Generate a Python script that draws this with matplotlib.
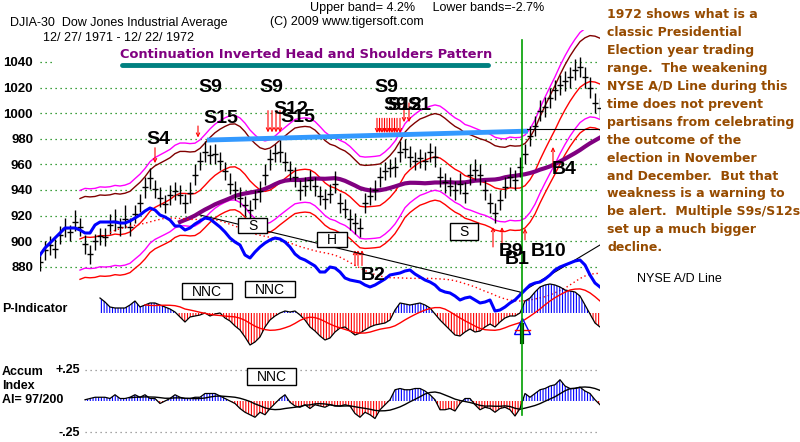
import numpy as np
import matplotlib
matplotlib.use("Agg")
import matplotlib.pyplot as plt
from matplotlib.patches import Rectangle
from matplotlib.lines import Line2D

plt.rcParams['font.family'] = ['Liberation Sans', 'DejaVu Sans']
plt.rcParams['hatch.linewidth'] = 0.8

W, H = 800, 442

# ---------------- data (DJIA, one bar ~ every 2 trading days) ----------------
closes = [884, 893, 897, 894, 905, 910, 907, 915, 911, 898, 890, 900, 904, 903, 913, 916,
          911, 917, 911, 921, 930, 942, 949, 941, 934, 929, 936, 939, 936, 930, 938, 952,
          963, 970, 967, 968, 963, 955, 945, 940, 934, 928, 924, 933, 939, 952, 964, 969,
          970, 962, 956, 950, 940, 943, 948, 943, 935, 933, 937, 945, 930, 925, 917, 914,
          910, 930, 935, 940, 950, 955, 957, 958, 970, 972, 966, 963, 965, 963, 970, 966,
          950, 946, 943, 940, 945, 938, 952, 956, 952, 940, 930, 922, 932, 942, 950, 948,
          958, 968, 982, 990, 1002, 1005, 1012, 1018, 1022, 1025, 1028, 1034, 1036, 1028,
          1020, 1008, 1004]
highs = [890, 900, 904, 902, 912, 918, 913, 924, 918, 905, 897, 906, 910, 910, 921, 925,
         918, 928, 918, 928, 937, 950, 957, 948, 942, 936, 944, 946, 944, 937, 946, 960,
         970, 978, 975, 976, 970, 962, 953, 947, 942, 935, 932, 940, 947, 960, 972, 976,
         979, 970, 963, 958, 948, 950, 956, 950, 943, 941, 945, 955, 938, 933, 925, 922,
         918, 938, 942, 948, 958, 962, 964, 966, 978, 980, 974, 970, 972, 970, 977, 974,
         958, 953, 950, 947, 953, 946, 960, 964, 960, 948, 938, 930, 940, 950, 958, 956,
         966, 976, 990, 998, 1010, 1013, 1020, 1026, 1030, 1033, 1036, 1042, 1044, 1036,
         1028, 1016, 1012]
lows = [877, 885, 889, 887, 898, 903, 900, 908, 904, 890, 882, 893, 897, 896, 906, 908,
        904, 910, 904, 914, 923, 934, 941, 934, 927, 922, 928, 932, 929, 922, 930, 944,
        956, 962, 960, 960, 956, 948, 937, 932, 927, 920, 916, 925, 931, 944, 956, 962,
        962, 955, 948, 942, 932, 935, 940, 935, 928, 925, 930, 938, 922, 918, 909, 906,
        903, 922, 928, 932, 942, 948, 950, 950, 962, 965, 958, 956, 957, 956, 962, 958,
        942, 938, 935, 932, 937, 930, 944, 948, 944, 932, 922, 914, 924, 934, 942, 940,
        950, 960, 974, 982, 994, 997, 1004, 1010, 1014, 1017, 1020, 1026, 1028, 1020,
        1012, 1000, 996]

# NYSE advance/decline line (arbitrary units)
nyse_ad = [45, 52, 57, 62, 67, 72, 72, 72, 70, 67, 67, 75, 78, 78, 78, 78, 77, 77, 79, 82,
           85, 89, 92, 90, 85, 83, 80, 74, 74, 70, 72, 76, 79, 82, 81, 77, 73, 68, 62, 58,
           55, 45, 42, 48, 53, 57, 60, 62, 61, 58, 53, 46, 42, 40, 37, 34, 28, 28, 33, 32,
           28, 22, 20, 19, 18, 15, 13, 15, 18, 21, 25, 26, 27, 29, 30, 26, 23, 20, 18, 15,
           10, 8, 7, 4, 0, 2, 3, 0, -3, -2, 0, -11, -10, -7, -3, 0, 5, 10, 15, 17,
           18, 21, 25, 30, 33, 35, 37, 39, 40, 35, 25, 17, 13]

# P-Indicator (starts later than price)
p_indicator = [15, 11, 6, 5, 5, 5, 8, 12, 6, 8, 10, 10, 8, 6, 4, 1, -4, -9, -4, -3,
               -2, 0, -3, -1, 0, -5, -8, -13, -17, -24, -32, -29, -24, -14, -7, -3, 0, 2, 1, 2,
               -2, -7, -14, -18, -23, -27, -25, -19, -15, -14, -18, -22, -20, -17, -14, -12, -11, -10, -7, 3,
               10, 9, 8, 9, 10, 8, 5, -1, -7, -12, -17, -22, -23, -19, -16, -19, -18, -14, -11, -14,
               -9, -5, -3, -3, 0, 12, 15, 21, 26, 28, 29, 28, 26, 23, 22, 21, 17, 8, -1, -10, -14]

# Accumulation Index (hundredths)
accum_index = [1, 2, 3, 3, 3, 2, 5, 2, 2, 3, 5, 3, 5, 2, 2, -2, 0, 2, 5, 3,
               2, 2, 3, 3, 6, 6, 6, 4, 2, 0, -2, -6, -9, -11, -13, -9, -11, -6, -2, 2,
               5, -1, -4, -5, -3, -6, -3, -4, -5, -3, -4, -4, -3, -4, -10, -13, -9, -11, -14, -7,
               -3, 1, 9, 10, 9, 9, 10, 10, 8, 5, 1, -7, -7, -6, -8, -2, 2, 2, -3, -7,
               -5, -6, -9, -6, -5, -7, -12, -6, 6, 3, 6, 9, 10, 12, 13, 17, 12, 10, 10, 11,
               8, 6, 1, -3]

price_ticks = [880, 900, 920, 940, 960, 980, 1000, 1020, 1040]
election_bar = 96.4

# signals: bar, arrow tail price, arrow tip price
sell_bars = [23, 31.6, 45.6, 46.4, 47.2, 48, 67.4, 67.9, 68.4, 68.9, 69.4, 69.9, 70.4,
             70.9, 71.4, 72, 72.8, 73.8]
sell_from = [973, 990, 1002, 1002, 1002, 1002, 996, 996, 996, 996, 996, 996, 996,
             996, 996, 996, 1008, 1008]
sell_to = [961, 981, 985, 985, 985, 985, 984.5, 984.5, 984.5, 984.5, 984.5, 984.5, 984.5,
           984.5, 984.5, 984.5, 993, 993]
buy_bars = [63, 63.6, 64.4, 90.6, 92.4, 97, 102.6]
buy_from = [881, 881, 881, 895.5, 895.5, 901, 958]
buy_to = [893, 893, 893, 911, 911, 910, 973.6]

neck_bars = [33.4, 97.6]
neck_price = [979, 986]

right_text = ["1972 shows what is a", "classic Presidential", "Election year trading",
              "range.  The weakening", "NYSE A/D Line during this", "time does not prevent",
              "partisans from celebrating", "the outcome of the", "election in November",
              "and December.  But that", "weakness is a warning to",
              "be alert.  Multiple S9s/S12s", "set up a much bigger", "decline."]

# ---------------- helpers ----------------
def trailing_mean(a, n):
    a = np.asarray(a, dtype=float)
    out = np.full(len(a), np.nan)
    for i in range(n - 1, len(a)):
        out[i] = a[i - n + 1:i + 1].mean()
    return out

def fx(px):
    return px / W

def fy(py):
    return 1 - py / H

def ftext(px, py, s, **kw):
    kw.setdefault('va', 'center')
    fig.text(fx(px), fy(py), s, **kw)

def axes_px(top, bottom):
    a = fig.add_axes([fx(40), fy(bottom), fx(600) - fx(40), (bottom - top) / H])
    a.patch.set_alpha(0)
    for s in a.spines.values():
        s.set_visible(False)
    a.set_xticks([])
    a.set_xlim(0, len(closes) - 1)
    return a

fig = plt.figure(figsize=(8, 4.42), dpi=100)
fig.patch.set_facecolor('white')

closes_a = np.array(closes, float)
idx = np.arange(len(closes))

# ---------------- price panel ----------------
ax = axes_px(30, 290)
ax.set_ylim(1040 - (290 - 62) / 1.28, 1040 + (62 - 30) / 1.28)
ax.set_yticks(price_ticks)
ax.set_yticklabels([str(t) for t in price_ticks], fontweight='bold', fontsize=9.5)
ax.tick_params(axis='y', length=0, pad=5)
ax.grid(axis='y', color='#008000', linestyle=(0, (1, 3)), lw=0.9)

ma = trailing_mean(closes_a, 9)
ma_long = trailing_mean(closes_a, 29)
ax.plot(idx, ma * 1.042, color='#FF00FF', lw=1)
ax.plot(idx, ma * 1.035, color='#800000', lw=1)
ax.plot(idx, ma, color='#FF0000', lw=1)
ax.plot(idx, ma * 0.973, color='#FF00FF', lw=1)
ax.plot(idx, ma * 0.965, color='#FF0000', lw=1)
ax.plot(idx, ma_long, color='#800080', lw=3)

ax.vlines(idx, lows, highs, colors='black', lw=1.0)
ax.plot(idx, closes, ls='none', marker='_', ms=4, mew=1, color='black')

ax.plot(neck_bars, neck_price, color='#3399FF', lw=3.5, solid_capstyle='butt')
ax.plot([97.4, len(closes) - 1], [987.5, 987.5], color='black', lw=0.8)

for b, f, t in zip(sell_bars, sell_from, sell_to):
    ax.annotate('', xy=(b, t), xytext=(b, f),
                arrowprops=dict(arrowstyle='->', color='red', lw=0.8, mutation_scale=6,
                                shrinkA=0, shrinkB=0))
for b, f, t in zip(buy_bars, buy_from, buy_to):
    ax.annotate('', xy=(b, t), xytext=(b, f),
                arrowprops=dict(arrowstyle='->', color='red', lw=0.8, mutation_scale=6,
                                shrinkA=0, shrinkB=0))

# ---------------- NYSE A/D line ----------------
ax_ad = axes_px(30, 330)
ax_ad.set_ylim(-30, 270)
ax_ad.set_yticks([])
ad_idx = np.arange(len(nyse_ad))
ax_ad.plot(ad_idx, trailing_mean(nyse_ad, 15), color='red', lw=1, ls=(0, (1, 2)))
ax_ad.plot([32, 96], [85, 8], color='black', lw=0.8)
ax_ad.plot([96, 112], [7, 55], color='black', lw=0.8)
ax_ad.plot(ad_idx, nyse_ad, color='#0000FF', lw=2.2)

# ---------------- P-Indicator ----------------
ax_p = axes_px(280, 350)
ax_p.set_ylim(-37, 33)
ax_p.set_yticks([])
p = np.array(p_indicator, float)
p_idx = idx[-len(p):]
ax_p.fill_between(p_idx, 0, p, where=p >= 0, interpolate=True, facecolor='none',
                  edgecolor='#0000FF', hatch='||||||', lw=0)
ax_p.fill_between(p_idx, 0, p, where=p <= 0, interpolate=True, facecolor='none',
                  edgecolor='#FF0000', hatch='||||||', lw=0)
ax_p.plot(p_idx, p, color='black', lw=0.9)
ax_p.plot(p_idx, trailing_mean(p, 10), color='red', lw=1)
ax_p.plot([election_bar], [-13], marker='^', ms=11, mfc='none', mec='#0000FF', mew=1)
ax_p.plot([election_bar - 1.5, election_bar + 1.5], [-17, -17], color='red', lw=1)
ax_p.plot([election_bar, election_bar], [-12, -29], color='#004000', lw=3)

# ---------------- Accumulation Index ----------------
ax_a = axes_px(360, 440)
ax_a.set_ylim(-31.2, 32.8)
ax_a.set_yticks([])
acc = np.array(accum_index, float)
a_idx = idx[-len(acc):]
ax_a.axhline(25, xmin=(85 - 40) / 560, color='#888888', lw=0.9, ls=(0, (1, 3)))
ax_a.axhline(-25, xmin=(85 - 40) / 560, color='#888888', lw=0.9, ls=(0, (1, 3)))
ax_a.fill_between(a_idx, 0, acc, where=acc >= 0, interpolate=True, facecolor='none',
                  edgecolor='#0000FF', hatch='||||||', lw=0)
ax_a.fill_between(a_idx, 0, acc, where=acc <= 0, interpolate=True, facecolor='none',
                  edgecolor='#FF0000', hatch='||||||', lw=0)
ax_a.plot(a_idx, acc, color='black', lw=0.9)
ax_a.plot(a_idx, trailing_mean(acc, 10), color='black', lw=1)
# election day vertical line spanning all panels
ax_a.plot([election_bar, election_bar], [(401 - 415) * 0.8, (401 - 40) * 0.8],
          color='#00A000', lw=1.2, clip_on=False)

# ---------------- header / annotations ----------------
ftext(310, 8, "Upper band= 4.2%     Lower bands=-2.7%", fontsize=9)
ftext(10, 23, "DJIA-30  Dow Jones Industrial Average", fontsize=9)
ftext(270, 22, "(C) 2009 www.tigersoft.com", fontsize=9)
ftext(43, 38, "12/ 27/ 1971 - 12/ 22/ 1972", fontsize=9)

fig.add_artist(Rectangle((fx(53), fy(68)), fx(495) - fx(53), 22 / H, transform=fig.transFigure,
                         fc='white', ec='none', zorder=2))
fig.add_artist(Line2D([fx(122), fx(488)], [fy(65), fy(65)], transform=fig.transFigure,
                      color='#008080', lw=3.5, solid_capstyle='round', zorder=3))
ftext(120, 54, "Continuation Inverted Head and Shoulders Pattern", fontsize=9.4,
      fontweight='bold', family='DejaVu Sans', color='#800080', zorder=4)

for k, line in enumerate(right_text):
    ftext(607, 15 + 17.9 * k, line, fontsize=9, fontweight='bold', family='DejaVu Sans',
          color='#964B00')

ftext(637, 279, "NYSE A/D Line", fontsize=9)
ftext(2, 309, "P-Indicator", fontsize=9, fontweight='bold')
ftext(2, 372, "Accum", fontsize=9, fontweight='bold')
ftext(2, 386, "Index", fontsize=9, fontweight='bold')
ftext(2, 400, "AI= 97/200", fontsize=9, fontweight='bold')
ftext(80, 370, "+.25", fontsize=9, fontweight='bold', ha='right')
ftext(80, 433, "-.25", fontsize=9, fontweight='bold', ha='right')

signals = [("S9", 210, 88), ("S9", 271, 88), ("S9", 386, 88), ("S15", 221, 119),
           ("S4", 158, 140), ("S12", 291, 109), ("S15", 298, 117), ("S9", 395, 106),
           ("S12", 405, 106), ("S1", 419, 106), ("B4", 564, 170), ("B2", 373, 276),
           ("B10", 549, 252), ("B9", 511, 252), ("B1", 517, 260)]
for s, x0, y0 in signals:
    ftext(x0, y0, s, fontsize=14, fontweight='bold', ha='center', zorder=5)

boxes = [("S", 238, 218, 267, 233), ("H", 317, 232, 347, 247), ("S", 450, 223, 478, 240),
         ("NNC", 182, 283, 232, 299), ("NNC", 245, 281, 295, 297), ("NNC", 247, 368, 296, 385)]
for s, x0, y0, x1, y1 in boxes:
    fig.add_artist(Rectangle((fx(x0), fy(y1)), (x1 - x0) / W, (y1 - y0) / H,
                             transform=fig.transFigure, fc='white', ec='black', lw=1, zorder=5))
    ftext((x0 + x1) / 2, (y0 + y1) / 2 + 0.5, s, fontsize=10, ha='center', zorder=6)

fig.savefig("out.png", dpi=100)
